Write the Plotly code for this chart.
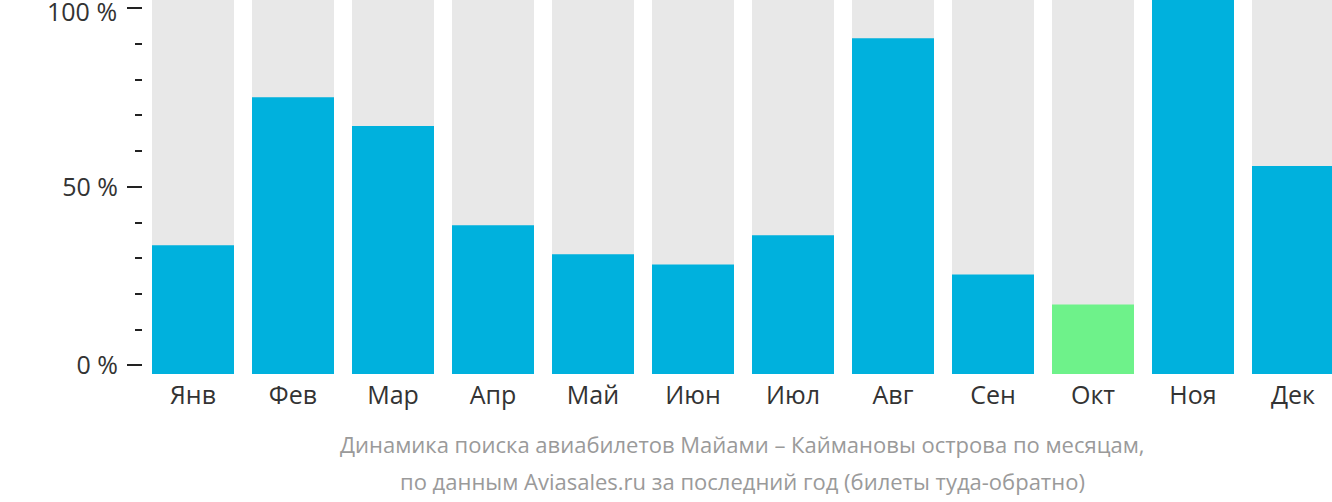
import plotly.graph_objects as go

months = ["Янв", "Фев", "Мар", "Апр", "Май", "Июн", "Июл", "Авг", "Сен", "Окт", "Ноя", "Дек"]
values = [34.4, 74.0, 66.3, 39.8, 32.0, 29.3, 37.1, 89.8, 26.6, 18.6, 100.0, 55.6]
background = [100] * 12
lowest_month = "Окт"

blue = "#00B1DD"
green = "#6EF28A"
gray = "#E8E8E8"
colors = [green if m == lowest_month else blue for m in months]

tick_vals = [0, 50, 100]
tick_text = ["0 %", "50 %", "100 %"]
minor_vals = [10, 20, 30, 40, 60, 70, 80, 90]

footer1 = "Динамика поиска авиабилетов Майами – Каймановы острова по месяцам,"
footer2 = "по данным Aviasales.ru за последний год (билеты туда-обратно)"

fig = go.Figure()
fig.add_trace(go.Bar(x=months, y=background, marker=dict(color=gray, line=dict(width=0)),
                     hoverinfo="skip", showlegend=False))
fig.add_trace(go.Bar(x=months, y=values, marker=dict(color=colors, line=dict(width=0)),
                     showlegend=False))
# invisible trace carrying the tick axis
fig.add_trace(go.Scatter(x=[months[0]], y=[50], yaxis="y2", mode="markers",
                         marker=dict(opacity=0), hoverinfo="skip", showlegend=False))

font = "Open Sans, Noto Sans, sans-serif"
# the top label is drawn as an annotation so it can sit slightly below its tick (as in the reference)
axis_text = tick_text[:-1] + [""]
annotations = [
    dict(text=tick_text[-1], xref="paper", yref="y2", x=0, y=tick_vals[-1],
         xanchor="right", yanchor="middle", xshift=-24, yshift=-3, showarrow=False,
         font=dict(size=25, color="#333333", family=font)),
    dict(text=footer1, xref="paper", yref="paper", x=0.504, y=-0.187,
         showarrow=False, xanchor="center", yanchor="middle",
         font=dict(size=22, color="#9A9A9A", family=font)),
    dict(text=footer2, xref="paper", yref="paper", x=0.504, y=-0.286,
         showarrow=False, xanchor="center", yanchor="middle",
         font=dict(size=22, color="#9A9A9A", family=font)),
]

fig.update_layout(
    width=1332, height=502,
    margin=dict(l=143, r=0, t=0, b=128),
    paper_bgcolor="white", plot_bgcolor="white",
    barmode="overlay", bargap=0.18,
    font=dict(family=font, color="#333333"),
    xaxis=dict(range=[-0.5, 11.39], showgrid=False, zeroline=False, showline=False,
               automargin=False,
               ticks="", tickfont=dict(size=25, color="#333333"), ticklabelstandoff=4),
    yaxis=dict(range=[0, 100], visible=False, automargin=False),
    yaxis2=dict(overlaying="y", side="left", range=[-2.38, 102.24], automargin=False,
                showgrid=False, zeroline=False, showline=False,
                tickmode="array", tickvals=tick_vals, ticktext=axis_text,
                ticks="outside", ticklen=15, tickwidth=2, tickcolor="#222222",
                tickfont=dict(size=25, color="#333333"), ticklabelstandoff=4,
                ticklabeloverflow="allow",
                minor=dict(tickmode="array", tickvals=minor_vals, ticks="outside",
                           ticklen=7, tickwidth=2, tickcolor="#222222", showgrid=False)),
    annotations=annotations,
)

fig.write_html("out.html")
